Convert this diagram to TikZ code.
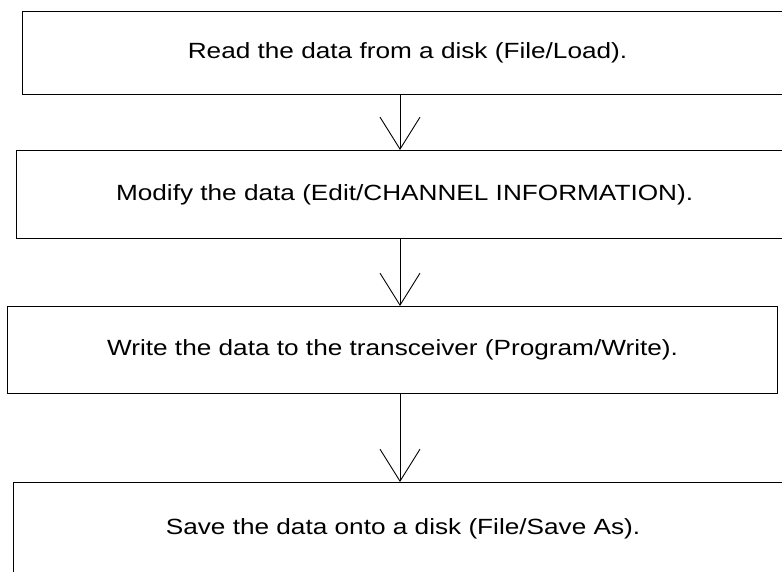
\documentclass[tikz,border=0pt]{standalone}
\usepackage{fontspec}
\setmainfont[FakeStretch=1.19]{Liberation Sans}
\usetikzlibrary{arrows.meta,positioning}

\begin{document}
\begin{tikzpicture}[x=1pt, y=-1pt,
    stepbox/.style={draw, line width=1.1pt, rectangle, anchor=north west,
        inner sep=0pt, font=\fontsize{22}{26}\selectfont},
    flow/.style={-{Straight Barb[length=32pt,width=40pt]}, line width=0.9pt}]
    \useasboundingbox (0,0) rectangle (782,571);
    \clip (0,0) rectangle (782,571);

    % Draw steps
    \node[stepbox, minimum width=770pt, minimum height=83pt] (read) at (22,11)
        {Read the data from a disk (File/Load).};
    \node[stepbox, minimum width=776pt, minimum height=88pt] (modify) at (16,150)
        {Modify the data (Edit/CHANNEL INFORMATION).};
    \node[stepbox, minimum width=770pt, minimum height=87pt] (write) at (7,306)
        {Write the data to the transceiver (Program/Write).};
    \node[stepbox, minimum width=779pt, minimum height=92pt] (save) at (13,482)
        {Save the data onto a disk (File/Save As).};

    % Draw arrows
    \coordinate (col) at (400,0);
    \draw[flow] (read.south -| col) -- (modify.north -| col);
    \draw[flow] (modify.south -| col) -- (write.north -| col);
    \draw[flow] (write.south -| col) -- (save.north -| col);
\end{tikzpicture}
\end{document}
